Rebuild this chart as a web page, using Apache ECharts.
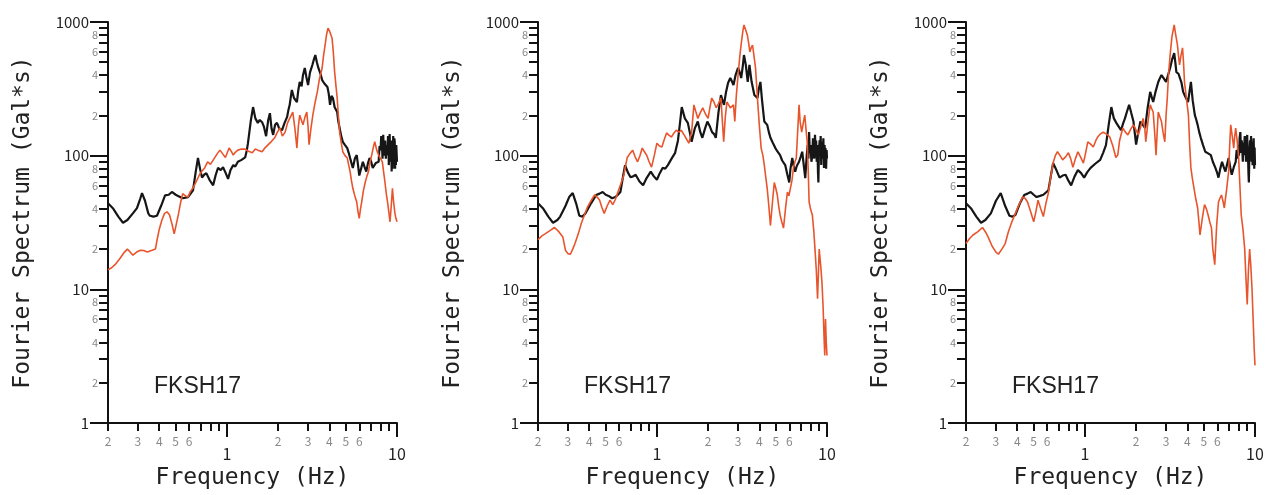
<!DOCTYPE html>
<html lang="en">
<head>
<meta charset="UTF-8">
<title>FKSH17 Fourier Spectrum</title>
<script src="https://cdn.jsdelivr.net/npm/echarts@6.0.0/dist/echarts.min.js"></script>
<style>
  html, body { margin: 0; padding: 0; background: #fff; }
  #container { width: 1269px; height: 495px; }
</style>
</head>
<body>
<div id="container"></div>
<script>
// tick positions / labels (log axes)
var xTickValues = [0.2, 0.3, 0.4, 0.5, 0.6, 0.7, 0.8, 0.9, 1, 2, 3, 4, 5, 6, 7, 8, 9, 10];
var xTickLabels = [0.2, 0.3, 0.4, 0.5, 0.6, 1, 2, 3, 4, 5, 6, 10];
var xMajorTicks = [1, 10];
var yTickValues = [1, 2, 3, 4, 5, 6, 7, 8, 9, 10, 20, 30, 40, 50, 60, 70, 80, 90,
  100, 200, 300, 400, 500, 600, 700, 800, 900, 1000];
var yTickLabels = [1, 2, 4, 6, 8, 10, 20, 40, 60, 80, 100, 200, 400, 600, 800, 1000];
var yMajorTicks = [1, 10, 100, 1000];

var stationName = 'FKSH17';

// panel 1  [frequency Hz, amplitude Gal*s]
var p1Black = [[0.2,44],[0.215,40],[0.23,35],[0.245,31.5],[0.26,33],[0.28,37],[0.296,40.5],[0.31,48],[0.317,52.5],[0.33,46],[0.345,37],[0.353,35.5],[0.37,35],[0.388,35.5],[0.41,42],[0.433,50.5],[0.455,51],[0.475,53.5],[0.5,51],[0.516,50],[0.55,48],[0.591,49],[0.612,52],[0.632,55],[0.655,75],[0.676,96],[0.695,80],[0.714,68.5],[0.735,72],[0.757,74],[0.79,66],[0.83,60],[0.86,72],[0.887,81],[0.92,78],[0.949,82],[0.98,75],[1.016,67],[1.05,78],[1.09,85],[1.12,83],[1.16,90],[1.22,93],[1.28,97],[1.31,110],[1.33,124],[1.38,180],[1.425,231],[1.47,190],[1.52,176],[1.56,185],[1.61,178],[1.65,165],[1.7,140],[1.75,185],[1.79,208],[1.83,160],[1.87,143],[1.92,170],[1.97,176],[2.03,160],[2.11,155],[2.18,175],[2.26,195],[2.3,220],[2.34,240],[2.38,280],[2.41,310],[2.48,270],[2.58,252],[2.63,310],[2.68,356],[2.75,330],[2.8,400],[2.87,453],[2.93,390],[3.0,337],[3.08,420],[3.18,477],[3.24,520],[3.31,566],[3.38,500],[3.45,453],[3.55,410],[3.63,368],[3.75,345],[3.9,326],[3.97,290],[4.04,240],[4.12,280],[4.2,270],[4.3,230],[4.45,212],[4.52,180],[4.6,161],[4.7,140],[4.8,127],[4.95,120],[5.1,114],[5.2,105],[5.3,96],[5.4,88],[5.5,81],[5.65,95],[5.8,101],[5.9,85],[6.0,71],[6.15,80],[6.3,90],[6.45,82],[6.6,76],[6.75,88],[6.9,96],[7.05,90],[7.2,81],[7.5,88],[7.8,90],[7.9,118],[8.0,110],[8.08,140],[8.15,128],[8.22,95],[8.3,143],[8.38,100],[8.45,110],[8.52,130],[8.6,95],[8.7,120],[8.8,101],[8.85,140],[8.9,135],[8.95,85],[9.0,110],[9.05,145],[9.1,150],[9.15,90],[9.2,100],[9.25,130],[9.3,76],[9.35,110],[9.4,120],[9.45,80],[9.5,140],[9.55,95],[9.6,100],[9.65,135],[9.7,127],[9.75,80],[9.8,110],[9.85,85],[9.9,120],[10,90]];
var p1Red = [[0.2,14],[0.21,14.5],[0.22,15.3],[0.235,17],[0.25,19],[0.26,20],[0.27,19],[0.28,18],[0.295,19],[0.31,19.6],[0.325,19.5],[0.34,19],[0.36,19.5],[0.38,20],[0.39,24],[0.4,28],[0.415,33],[0.43,37],[0.445,38],[0.46,36],[0.475,31],[0.49,26],[0.505,31],[0.52,37],[0.535,45],[0.55,52],[0.57,50],[0.59,49],[0.61,54],[0.63,57],[0.66,64],[0.69,72],[0.71,76],[0.74,81],[0.77,90],[0.8,86],[0.85,97],[0.88,104],[0.91,110],[0.94,104],[0.98,97],[1.03,114],[1.06,108],[1.09,101],[1.12,106],[1.16,110],[1.22,112],[1.28,112],[1.34,108],[1.41,105],[1.47,112],[1.52,110],[1.56,108],[1.61,107],[1.68,115],[1.75,121],[1.83,128],[1.91,136],[1.98,150],[2.05,161],[2.12,140],[2.2,150],[2.27,175],[2.34,190],[2.44,212],[2.51,160],[2.58,114],[2.63,165],[2.68,201],[2.74,185],[2.8,170],[2.88,195],[2.95,212],[3.0,165],[3.04,121],[3.12,160],[3.2,201],[3.3,250],[3.4,300],[3.5,375],[3.63,453],[3.7,560],[3.78,673],[3.85,800],[3.93,900],[4.02,850],[4.15,760],[4.22,600],[4.3,422],[4.38,330],[4.45,270],[4.52,200],[4.6,150],[4.7,125],[4.8,107],[4.95,100],[5.1,96],[5.2,85],[5.3,76],[5.4,65],[5.5,57],[5.65,50],[5.8,45],[5.9,38],[6.0,34],[6.1,40],[6.2,45],[6.35,55],[6.5,63],[6.65,70],[6.8,76],[6.95,90],[7.1,101],[7.25,115],[7.4,127],[7.6,110],[7.8,101],[8.0,95],[8.2,90],[8.35,75],[8.5,63],[8.65,52],[8.8,45],[8.95,38],[9.1,32],[9.25,42],[9.4,57],[9.55,45],[9.7,38],[9.85,34],[10,32]];

// panel 2
var p2Black = [[0.2,44],[0.215,40],[0.23,35],[0.245,31.5],[0.26,33],[0.27,35],[0.29,42],[0.305,49],[0.32,52.5],[0.335,44],[0.35,35.5],[0.365,35],[0.38,37],[0.41,44],[0.44,50.8],[0.46,52],[0.48,53.5],[0.5,51],[0.52,50],[0.545,48],[0.57,49],[0.59,51],[0.61,53.5],[0.63,68],[0.65,85],[0.675,75],[0.7,69],[0.725,70],[0.75,72],[0.79,64],[0.83,60],[0.87,68],[0.92,76],[0.96,70],[1.0,66],[1.04,74],[1.08,81],[1.12,80],[1.16,85],[1.22,95],[1.28,105],[1.33,130],[1.37,180],[1.4,231],[1.46,190],[1.52,176],[1.56,150],[1.6,127],[1.67,160],[1.74,180],[1.8,150],[1.85,136],[1.92,160],[1.98,180],[2.05,165],[2.11,150],[2.17,145],[2.22,136],[2.3,210],[2.38,284],[2.43,260],[2.48,240],[2.55,300],[2.62,350],[2.7,381],[2.76,360],[2.82,337],[2.9,400],[3.0,453],[3.07,420],[3.13,381],[3.2,470],[3.25,566],[3.33,480],[3.42,356],[3.5,477],[3.6,360],[3.74,284],[3.82,278],[3.9,270],[3.98,320],[4.06,356],[4.15,260],[4.28,180],[4.36,178],[4.45,170],[4.55,150],[4.65,136],[4.8,125],[4.97,114],[5.1,108],[5.3,101],[5.45,92],[5.68,85],[5.85,72],[6.0,63],[6.1,80],[6.25,96],[6.35,85],[6.5,76],[6.65,84],[6.85,90],[7.0,98],[7.15,107],[7.3,85],[7.45,68],[7.6,100],[7.7,120],[7.78,95],[7.85,150],[7.92,105],[8.0,120],[8.1,90],[8.2,101],[8.27,135],[8.35,125],[8.42,95],[8.5,143],[8.57,110],[8.63,130],[8.7,90],[8.78,120],[8.85,75],[8.9,63],[8.97,110],[9.05,130],[9.1,100],[9.18,140],[9.25,85],[9.3,127],[9.38,95],[9.45,100],[9.52,135],[9.6,81],[9.68,120],[9.75,90],[9.8,114],[9.88,80],[9.95,110],[10,95]];
var p2Red = [[0.2,23.5],[0.21,25],[0.22,26],[0.235,27.5],[0.25,29],[0.265,27],[0.28,24.6],[0.29,19.6],[0.3,18.5],[0.31,18.3],[0.32,20],[0.33,22],[0.345,26],[0.36,31.4],[0.375,36],[0.39,41],[0.41,46],[0.43,50.8],[0.445,49],[0.46,46.5],[0.475,41],[0.49,37],[0.51,42],[0.53,46.5],[0.55,43],[0.57,47],[0.59,53.5],[0.615,62],[0.64,72],[0.655,85],[0.67,97],[0.695,104],[0.72,110],[0.745,98],[0.77,90],[0.795,100],[0.82,114],[0.845,107],[0.87,101],[0.9,90],[0.93,82],[0.965,100],[1.0,124],[1.035,118],[1.07,116],[1.1,130],[1.14,148],[1.18,142],[1.22,138],[1.26,148],[1.3,155],[1.35,150],[1.39,155],[1.46,140],[1.5,143],[1.54,124],[1.6,150],[1.65,240],[1.7,210],[1.74,190],[1.8,210],[1.86,228],[1.93,205],[2.0,190],[2.05,230],[2.1,270],[2.17,250],[2.23,228],[2.3,245],[2.38,270],[2.42,190],[2.47,127],[2.52,190],[2.58,252],[2.64,240],[2.7,228],[2.76,235],[2.82,240],[2.87,180],[2.93,280],[3.0,401],[3.07,550],[3.14,708],[3.2,850],[3.25,950],[3.32,880],[3.4,800],[3.46,700],[3.52,597],[3.58,640],[3.65,673],[3.72,560],[3.8,453],[3.85,350],[3.9,270],[4.0,170],[4.1,114],[4.2,100],[4.28,85],[4.36,70],[4.45,57],[4.55,42],[4.65,30],[4.78,45],[4.9,63],[5.0,57],[5.1,51],[5.2,42],[5.3,36],[5.42,32],[5.55,28.7],[5.7,40],[5.85,53.5],[5.97,50],[6.1,51],[6.22,65],[6.35,81],[6.48,90],[6.6,96],[6.72,150],[6.85,240],[6.95,180],[7.1,150],[7.25,175],[7.4,201],[7.52,160],[7.65,127],[7.75,80],[7.85,45],[8.0,40],[8.2,36],[8.35,28],[8.5,20],[8.65,14],[8.8,8.5],[8.9,13],[9.0,20],[9.1,17],[9.2,14.7],[9.35,11],[9.5,7],[9.6,4.5],[9.7,3.2],[9.8,6],[9.9,4],[10,3.2]];

// panel 3
var p3Black = [[0.2,44],[0.215,40],[0.23,35],[0.245,31.5],[0.26,33],[0.28,37],[0.3,46],[0.32,52.5],[0.34,42],[0.36,35.5],[0.375,35],[0.39,36],[0.415,44],[0.44,50.8],[0.46,52],[0.48,53.5],[0.5,51],[0.52,49],[0.545,50],[0.57,51],[0.59,53],[0.61,55],[0.63,70],[0.65,88],[0.68,78],[0.71,68.5],[0.74,71],[0.77,72],[0.8,65],[0.83,60],[0.87,70],[0.91,78],[0.95,74],[0.99,68.5],[1.03,75],[1.08,81],[1.15,87],[1.23,93],[1.28,105],[1.33,120],[1.38,170],[1.43,231],[1.48,190],[1.53,176],[1.58,165],[1.63,155],[1.68,175],[1.72,190],[1.77,215],[1.82,240],[1.87,210],[1.93,180],[2.0,121],[2.06,150],[2.12,180],[2.19,170],[2.26,161],[2.34,230],[2.42,300],[2.47,275],[2.52,252],[2.6,300],[2.7,356],[2.76,380],[2.82,401],[2.9,380],[3.0,356],[3.08,400],[3.17,453],[3.25,520],[3.35,586],[3.4,500],[3.45,422],[3.55,410],[3.63,401],[3.7,350],[3.78,300],[3.9,275],[4.04,252],[4.12,300],[4.2,356],[4.3,260],[4.43,201],[4.52,185],[4.6,170],[4.7,150],[4.8,136],[4.95,120],[5.1,107],[5.3,104],[5.5,101],[5.65,90],[5.85,81],[6.0,74],[6.1,68.5],[6.25,80],[6.4,90],[6.55,82],[6.7,76],[6.85,86],[7.0,96],[7.15,82],[7.3,72],[7.5,82],[7.7,90],[7.8,110],[7.9,95],[7.95,120],[8.05,100],[8.12,135],[8.2,150],[8.28,105],[8.35,130],[8.4,120],[8.48,90],[8.55,125],[8.6,101],[8.7,140],[8.8,125],[8.85,90],[8.92,130],[9.0,143],[9.05,95],[9.1,100],[9.15,75],[9.2,63],[9.28,110],[9.35,130],[9.4,100],[9.48,140],[9.55,90],[9.6,127],[9.68,85],[9.75,110],[9.82,135],[9.9,80],[9.95,115],[10,85]];
var p3Red = [[0.2,22],[0.21,24],[0.22,25.5],[0.235,27],[0.25,29],[0.26,27],[0.27,24.6],[0.285,21],[0.3,19],[0.31,18.3],[0.325,20],[0.34,22],[0.355,27],[0.37,31.4],[0.39,37],[0.41,43],[0.43,49],[0.445,48],[0.46,45],[0.48,38],[0.5,32],[0.515,38],[0.53,46.5],[0.55,40],[0.57,35],[0.59,44],[0.61,52.6],[0.63,70],[0.65,88],[0.67,100],[0.69,107],[0.715,100],[0.74,93],[0.77,98],[0.8,105],[0.825,95],[0.85,82],[0.88,95],[0.91,107],[0.945,97],[0.98,88],[1.01,105],[1.04,127],[1.08,122],[1.12,116],[1.16,130],[1.19,138],[1.23,145],[1.28,150],[1.34,145],[1.4,138],[1.46,118],[1.52,97],[1.56,101],[1.6,130],[1.67,161],[1.73,150],[1.79,143],[1.86,158],[1.93,170],[2.0,155],[2.06,143],[2.13,165],[2.2,190],[2.25,160],[2.28,127],[2.35,180],[2.42,240],[2.47,225],[2.52,212],[2.57,150],[2.62,101],[2.66,150],[2.7,212],[2.76,195],[2.82,180],[2.88,150],[2.95,127],[3.0,200],[3.05,270],[3.1,400],[3.17,566],[3.25,780],[3.35,950],[3.42,800],[3.5,673],[3.55,560],[3.6,477],[3.67,560],[3.75,640],[3.8,500],[3.85,356],[3.95,270],[4.06,201],[4.13,120],[4.2,81],[4.28,68],[4.38,57],[4.48,48],[4.6,40.6],[4.68,32],[4.75,25.5],[4.9,34],[5.05,43],[5.18,40],[5.3,36],[5.42,32],[5.55,28.7],[5.65,20],[5.8,15.3],[5.95,30],[6.1,45],[6.22,48],[6.35,50.8],[6.5,45],[6.6,40.6],[6.8,55],[7.0,76],[7.1,120],[7.2,170],[7.35,140],[7.5,114],[7.6,140],[7.7,161],[7.85,130],[8.0,101],[8.15,60],[8.3,36],[8.5,28],[8.7,20],[8.85,12],[9.0,7.7],[9.15,14],[9.3,20],[9.45,15],[9.6,10.2],[9.75,6],[9.9,3.5],[10,2.7]];

var panels = [
  { black: p1Black, red: p1Red, left: 108 },
  { black: p2Black, red: p2Red, left: 538 },
  { black: p3Black, red: p3Red, left: 966 }
];

var chart = echarts.init(document.getElementById('container'));

function isMajor(v, list) {
  for (var k = 0; k < list.length; k++) {
    if (Math.abs(v - list[k]) < 1e-6 * list[k]) return true;
  }
  return false;
}

function xLabel(v) {
  if (isMajor(v, xMajorTicks)) return '{maj|' + Math.round(v) + '}';
  var d = v < 1 ? Math.round(v * 10) : Math.round(v);
  return '{min|' + d + '}';
}

function yLabel(v) {
  if (isMajor(v, yMajorTicks)) return '{maj|' + Math.round(v) + '}';
  var p = Math.pow(10, Math.floor(Math.log(v) / Math.LN10 + 1e-9));
  return '{min|' + Math.round(v / p) + '}';
}

var axisColor = '#111';
var monoFont = 'DejaVu Sans Mono';
var labelFont = 'Noto Sans CJK JP';

var grids = [], xAxes = [], yAxes = [], series = [], titles = [];

panels.forEach(function (p, i) {
  grids.push({ left: p.left, top: 22, width: 289, height: 401, outerBoundsMode: 'none' });

  // main x axis: minor ticks + labels
  xAxes.push({
    type: 'log', logBase: 10, min: 0.2, max: 10, gridIndex: i, position: 'bottom',
    name: 'Frequency (Hz)', nameLocation: 'middle', nameGap: 31,
    nameTextStyle: { fontFamily: monoFont, fontSize: 23, color: '#222' },
    axisLine: { lineStyle: { color: axisColor, width: 2 } },
    axisTick: { customValues: xTickValues, length: 8, lineStyle: { color: axisColor, width: 2 } },
    minorTick: { show: false },
    splitLine: { show: false },
    axisLabel: {
      customValues: xTickLabels, margin: 12, formatter: xLabel,
      fontFamily: labelFont,
      rich: {
        maj: { fontSize: 16, color: '#222', fontFamily: labelFont, padding: [11, 0, 0, 0] },
        min: { fontSize: 12, color: '#888', fontFamily: labelFont }
      }
    }
  });
  // x axis overlay: long major ticks
  xAxes.push({
    type: 'log', logBase: 10, min: 0.2, max: 10, gridIndex: i, position: 'bottom', offset: 0,
    axisLine: { show: false },
    axisTick: { customValues: xMajorTicks, length: 14, lineStyle: { color: axisColor, width: 2 } },
    axisLabel: { show: false },
    splitLine: { show: false }
  });

  yAxes.push({
    type: 'log', logBase: 10, min: 1, max: 1000, gridIndex: i, position: 'left',
    name: 'Fourier Spectrum (Gal*s)', nameLocation: 'middle', nameGap: 73,
    nameTextStyle: { fontFamily: monoFont, fontSize: 23, color: '#222' },
    axisLine: { show: true, lineStyle: { color: axisColor, width: 2 } },
    axisTick: { show: true, customValues: yTickValues, length: 9, lineStyle: { color: axisColor, width: 2 } },
    minorTick: { show: false },
    splitLine: { show: false },
    axisLabel: {
      customValues: yTickLabels, margin: 10, formatter: yLabel,
      fontFamily: labelFont,
      rich: {
        maj: { fontSize: 15, color: '#222', fontFamily: labelFont, padding: [0, 9, 0, 0] },
        min: { fontSize: 11, color: '#888', fontFamily: labelFont }
      }
    }
  });
  yAxes.push({
    type: 'log', logBase: 10, min: 1, max: 1000, gridIndex: i, position: 'left', offset: 0,
    axisLine: { show: false },
    axisTick: { show: true, customValues: yMajorTicks, length: 18, lineStyle: { color: axisColor, width: 2 } },
    axisLabel: { show: false },
    splitLine: { show: false }
  });

  series.push({
    type: 'line', xAxisIndex: 2 * i, yAxisIndex: 2 * i,
    data: p.black, showSymbol: false, symbol: 'none',
    lineStyle: { color: '#161616', width: 2.2 }
  });
  series.push({
    type: 'line', xAxisIndex: 2 * i, yAxisIndex: 2 * i,
    data: p.red, showSymbol: false, symbol: 'none',
    lineStyle: { color: '#e8552d', width: 1.6 }
  });

  titles.push({
    text: stationName, left: p.left + 41, top: 370,
    textStyle: { fontFamily: 'Liberation Sans', fontSize: 23, fontWeight: 'normal', color: '#222' }
  });
});

chart.setOption({
  animation: false,
  backgroundColor: '#fff',
  title: titles,
  grid: grids,
  xAxis: xAxes,
  yAxis: yAxes,
  series: series
});
</script>
</body>
</html>
